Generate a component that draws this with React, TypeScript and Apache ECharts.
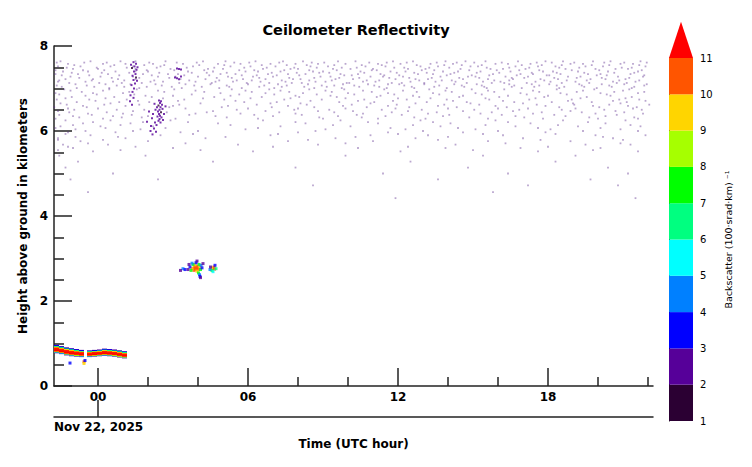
import React, { useEffect, useRef } from "react";
import * as echarts from "echarts";

const FONT = "DejaVu Sans";

// ---- axes ----
const xMin = -1.76;
const xMax = 22.2;
const majorHours = [0, 6, 12, 18];
const minorHours = [2, 4, 8, 10, 14, 16, 20, 22];
const dateLabel = "Nov 22, 2025";

// ---- colour scale (backscatter levels) ----
const colorbarLevels = [1, 2, 3, 4, 5, 6, 7, 8, 9, 10, 11];
const colorbarColors = [
  "#2b0033", "#560099", "#0000ff", "#0080ff", "#00ffff",
  "#00ff80", "#00ff00", "#a6ff00", "#ffd500", "#ff5500", "#ff0000",
];

// ---- low cloud layer: column start hour, base km, top km ----
const lowLayerHour = [-1.76, -1.56, -1.36, -1.16, -0.96, -0.76, -0.44, -0.24, -0.04, 0.16, 0.36, 0.56, 0.76, 0.96];
const lowLayerBase = [0.77, 0.75, 0.72, 0.70, 0.69, 0.68, 0.68, 0.69, 0.70, 0.71, 0.70, 0.69, 0.67, 0.65];
const lowLayerTop = [0.97, 0.94, 0.91, 0.89, 0.87, 0.85, 0.84, 0.85, 0.86, 0.88, 0.87, 0.86, 0.84, 0.82];

// ---- echo cells: [hour, km, backscatter] ----
const lowDrips = [
  [-0.56, 0.57, 10.5], [-0.56, 0.53, 9.5], [-0.52, 0.60, 3.5], [-1.12, 0.54, 3.5],
];
const midCloud = [
  [3.84, 2.78, 10.5], [3.92, 2.78, 10.5], [4.0, 2.78, 10.5], [3.84, 2.72, 10.5], [3.92, 2.74, 10.5], [4.0, 2.74, 10.5],
  [3.88, 2.81, 10.5], [3.96, 2.82, 10.5], [3.80, 2.76, 10.5],
  [3.76, 2.76, 9.5], [4.08, 2.80, 9.5], [3.88, 2.85, 9.5], [3.96, 2.70, 9.5],
  [3.72, 2.72, 7.5], [4.1, 2.74, 7.5], [3.8, 2.86, 7.5], [4.04, 2.86, 7.5], [4.02, 2.66, 7.5],
  [3.68, 2.80, 3.5], [3.76, 2.89, 4.5], [3.92, 2.90, 3.5], [4.12, 2.84, 4.5], [4.16, 2.78, 3.5], [4.06, 2.62, 4.5], [4.08, 2.58, 3.5],
  [3.6, 2.74, 2.5], [3.64, 2.86, 2.5], [4.2, 2.88, 2.5], [3.96, 2.94, 2.5], [4.1, 2.55, 2.5],
  [3.4, 2.76, 4.5], [3.48, 2.74, 3.5], [3.3, 2.72, 2.5],
  [4.56, 2.78, 9.5], [4.64, 2.80, 10.5], [4.66, 2.75, 10.5], [4.56, 2.72, 7.5], [4.48, 2.74, 4.5],
  [4.72, 2.76, 6.5], [4.68, 2.84, 3.5], [4.5, 2.80, 2.5], [4.6, 2.69, 5.5],
];
const plumeA = [
  [1.42, 7.62, 2.5], [1.52, 7.58, 2.5], [1.46, 7.52, 2.5], [1.36, 7.48, 1.5], [1.54, 7.44, 2.5], [1.44, 7.40, 2.5],
  [1.50, 7.34, 2.5], [1.38, 7.30, 2.5], [1.52, 7.26, 1.5], [1.42, 7.20, 2.5], [1.48, 7.12, 2.5], [1.34, 7.08, 2.5],
  [1.44, 7.00, 2.5], [1.38, 6.92, 2.5], [1.30, 6.84, 2.5], [1.42, 6.78, 2.5], [1.28, 6.70, 2.5], [1.36, 6.62, 2.5],
  [1.58, 7.50, 2.5], [1.32, 7.56, 2.5], [1.56, 7.18, 2.5],
];
const plumeB = [
  [2.44, 6.72, 2.5], [2.48, 6.66, 2.5], [2.42, 6.60, 1.5], [2.50, 6.56, 2.5], [2.46, 6.50, 2.5], [2.40, 6.46, 2.5],
  [2.52, 6.44, 1.5], [2.44, 6.40, 2.5], [2.48, 6.36, 2.5], [2.38, 6.34, 2.5], [2.54, 6.32, 2.5], [2.46, 6.28, 2.5],
  [2.42, 6.24, 2.5], [2.50, 6.20, 2.5], [2.58, 6.52, 2.5], [2.36, 6.56, 2.5], [2.56, 6.62, 2.5], [2.52, 6.70, 2.5],
  [2.20, 6.40, 2.5], [2.16, 6.30, 2.5], [2.28, 6.20, 2.5], [2.12, 6.12, 2.5], [2.24, 6.06, 2.5], [2.32, 5.98, 2.5],
  [2.18, 5.92, 2.5], [2.64, 6.40, 2.5], [2.60, 6.26, 2.5], [2.30, 6.50, 2.5], [2.26, 6.64, 2.5], [2.10, 6.00, 2.5],
  [2.34, 6.14, 2.5], [1.96, 6.22, 2.5], [2.04, 6.46, 2.5], [2.70, 6.58, 2.5],
];
const streakC = [
  [3.16, 7.47, 2.5], [3.24, 7.46, 2.5], [3.32, 7.45, 2.5],
  [3.08, 7.26, 2.5], [3.16, 7.24, 2.5], [3.24, 7.22, 2.5], [3.32, 7.28, 2.5],
];

// ---- background noise speckle: heights (km) and hours seen at each ----
const noiseKm = [
  7.64, 7.61, 7.58, 7.55, 7.52, 7.49, 7.46, 7.43, 7.40, 7.37, 7.34, 7.31, 7.28, 7.25, 7.22, 7.19, 7.16, 7.13, 7.10, 7.07, 7.04, 7.01,
  6.98, 6.95, 6.92, 6.89, 6.86, 6.83, 6.80, 6.77, 6.74, 6.71, 6.68, 6.65, 6.62, 6.59, 6.56, 6.53, 6.50, 6.47, 6.44, 6.41, 6.38, 6.35, 6.32, 6.29,
  6.25, 6.21, 6.18, 6.14, 6.11, 6.07, 6.04, 6.00, 5.97, 5.93, 5.90, 5.86, 5.83, 5.79, 5.76, 5.71, 5.68, 5.63, 5.60, 5.55, 5.52,
  5.42, 5.28, 5.14, 5.00, 4.86, 4.72, 4.56, 4.42,
];
const noiseHours = [
  [-1.5, -0.3, 0.9, 1.5, 2.7, 4.2, 5.1, 6.3, 7.4, 8.2, 9.6, 10.3, 11.8, 12.6, 13.9, 14.7, 15.5, 16.8, 17.9, 18.6, 19.8, 20.5, 21.7],
  [-1.65, -0.55, 0.35, 2.05, 3.15, 3.95, 5.45, 6.05, 7.25, 8.55, 9.05, 10.85, 11.55, 12.35, 13.55, 14.35, 15.05, 16.15, 17.55, 18.15, 19.05, 20.25, 21.05, 21.95],
  [-1.2, 0.2, 1.1, 2.2, 3.4, 4.8, 5.7, 6.9, 7.9, 8.8, 9.9, 11.2, 12.1, 13.3, 14.2, 15.9, 16.4, 17.3, 18.9, 19.4, 20.9, 21.4],
  [-0.95, 0.65, 1.85, 2.65, 4.05, 5.05, 6.55, 7.55, 8.35, 9.45, 10.55, 11.35, 12.75, 13.85, 14.55, 15.35, 16.95, 17.75, 18.55, 19.75, 20.45, 21.65],
  [-1.6, -0.7, 0.5, 1.4, 2.5, 3.8, 5.3, 6.1, 7.1, 8.5, 9.2, 10.7, 11.5, 12.9, 13.6, 14.9, 15.2, 16.7, 17.6, 18.3, 19.5, 20.2, 21.9],
  [-1.25, -0.05, 1.15, 2.35, 3.55, 4.65, 5.85, 6.75, 7.85, 8.75, 9.75, 10.35, 11.85, 12.25, 13.25, 14.05, 15.55, 16.45, 17.25, 18.45, 19.25, 20.95, 21.35],
  [-1.0, 0.0, 1.5, 2.9, 4.4, 5.0, 6.6, 7.7, 8.0, 9.4, 10.1, 11.0, 12.4, 13.1, 14.5, 15.7, 16.2, 17.1, 18.7, 19.9, 20.7, 21.2],
  [-1.7, -0.6, 0.25, 1.95, 3.05, 4.25, 5.65, 6.25, 7.45, 8.45, 9.55, 10.95, 11.15, 12.95, 13.45, 14.85, 15.95, 16.85, 17.65, 18.95, 20.05, 21.75],
  [-1.4, -0.4, 0.7, 1.5, 2.0, 3.6, 4.6, 5.9, 6.4, 7.3, 8.6, 9.0, 10.5, 11.7, 12.3, 13.8, 14.4, 15.3, 16.5, 17.8, 18.2, 19.2, 20.4, 21.6],
  [-1.05, 0.15, 1.25, 2.45, 3.75, 4.35, 5.15, 6.95, 7.95, 8.85, 9.25, 10.65, 11.95, 12.65, 13.15, 14.25, 15.15, 16.05, 17.35, 18.35, 19.45, 20.65, 21.45],
  [-1.7, -0.8, 0.4, 1.8, 2.8, 3.2, 4.9, 5.5, 6.8, 7.6, 8.3, 9.7, 10.4, 11.3, 12.8, 13.4, 14.1, 15.8, 16.9, 17.4, 18.5, 19.6, 20.1, 21.3],
  [-1.45, -0.35, 0.85, 2.15, 3.45, 4.45, 5.75, 6.35, 7.15, 8.05, 9.85, 10.15, 11.45, 12.05, 13.95, 14.95, 15.65, 16.75, 17.95, 18.05, 19.95, 20.35, 21.85],
  [-1.1, 0.1, 1.4, 2.4, 3.1, 4.0, 5.2, 6.2, 7.0, 8.9, 9.3, 10.9, 11.4, 12.2, 13.7, 14.8, 15.1, 16.3, 17.2, 18.8, 19.3, 20.8, 21.8],
  [-0.75, 0.55, 1.65, 2.85, 4.75, 5.35, 6.45, 7.65, 8.65, 9.65, 10.45, 11.65, 12.45, 13.35, 14.45, 15.25, 16.55, 17.05, 18.25, 19.15, 20.15, 21.25],
  [-1.3, -0.2, 0.8, 1.5, 3.3, 4.3, 5.8, 6.7, 7.8, 8.1, 9.5, 10.2, 11.9, 12.7, 13.2, 14.6, 15.6, 16.6, 17.7, 18.4, 19.7, 20.3, 21.1],
  [-1.55, -0.25, 1.05, 2.25, 3.65, 4.85, 5.55, 6.15, 7.35, 8.45, 9.35, 10.75, 11.25, 12.85, 13.75, 14.15, 15.85, 16.45, 17.85, 18.75, 19.55, 20.85, 21.65],
  [-1.6, -0.5, 0.6, 2.1, 2.6, 3.9, 4.7, 5.4, 6.5, 7.5, 8.7, 9.1, 10.6, 11.1, 12.5, 13.5, 14.3, 15.4, 16.1, 17.5, 18.1, 19.1, 20.6, 21.5],
  [-1.15, 0.05, 0.95, 1.75, 3.25, 4.55, 5.95, 6.85, 7.75, 8.15, 9.95, 10.05, 11.75, 12.15, 13.05, 14.75, 15.75, 16.25, 17.15, 18.55, 19.65, 20.75, 21.15],
  [-0.9, 0.3, 1.3, 2.3, 3.5, 4.5, 6.0, 7.2, 8.4, 9.8, 10.8, 11.6, 12.05, 13.05, 14.25, 15.15, 16.45, 17.35, 18.05, 19.25, 20.15, 21.05, 21.95],
  [-1.65, -0.45, 0.75, 2.55, 3.85, 5.15, 6.65, 7.55, 8.95, 9.45, 10.25, 11.05, 12.25, 13.65, 14.55, 15.35, 16.65, 17.65, 18.35, 19.35, 20.45, 21.85],
  [-1.45, -0.15, 1.05, 1.95, 2.95, 4.15, 5.25, 6.45, 7.35, 8.25, 9.15, 10.45, 11.25, 12.55, 13.45, 14.65, 15.45, 16.55, 17.45, 18.65, 19.45, 20.55, 21.45],
  [-0.85, 0.45, 1.65, 3.35, 4.85, 5.75, 7.05, 8.65, 9.75, 11.55, 12.65, 13.95, 15.55, 16.95, 18.45, 19.95, 21.35],
  [-1.35, 0.45, 1.55, 3.05, 5.35, 6.85, 8.45, 9.85, 11.45, 13.25, 14.95, 16.25, 18.35, 19.85, 21.25],
  [-1.1, 0.2, 2.4, 3.9, 5.9, 7.3, 9.1, 10.6, 12.2, 13.9, 15.6, 17.4, 19.4, 21.0],
  [-0.65, 1.25, 2.65, 4.25, 6.15, 7.65, 9.35, 10.95, 12.75, 14.15, 15.85, 17.65, 19.15, 20.65, 21.85],
  [-1.7, -0.2, 1.0, 4.9, 6.7, 8.2, 10.0, 11.6, 13.4, 15.1, 16.9, 18.5, 20.1, 21.6],
  [-1.55, -0.05, 1.45, 3.75, 5.65, 7.05, 8.75, 10.25, 11.85, 13.65, 15.35, 17.15, 18.75, 20.35],
  [-0.5, 1.9, 3.0, 5.3, 7.9, 9.3, 11.3, 12.6, 14.6, 16.4, 18.0, 20.5],
  [-1.05, 0.65, 2.15, 4.65, 6.55, 8.05, 9.55, 11.15, 12.85, 14.45, 16.05, 17.85, 19.55, 21.35],
  [-1.3, 0.3, 2.6, 4.2, 6.1, 7.7, 9.9, 12.0, 13.3, 15.5, 17.5, 19.3, 21.1],
  [-1.65, -0.35, 1.15, 3.45, 5.05, 7.45, 8.95, 10.65, 12.35, 13.95, 15.65, 17.25, 18.95, 20.85, 21.65],
  [-0.1, 1.6, 3.2, 5.5, 8.5, 10.4, 11.8, 14.2, 16.2, 18.8, 20.6, 21.9],
  [-0.85, 0.85, 2.05, 5.85, 7.15, 9.65, 11.05, 13.15, 14.75, 16.65, 18.15, 19.75, 21.15],
  [-1.5, 0.5, 4.1, 6.9, 8.1, 10.9, 12.7, 14.9, 17.0, 19.0, 20.9],
  [-1.25, 0.25, 1.65, 3.25, 6.35, 8.35, 10.15, 11.95, 13.85, 15.25, 17.55, 19.05, 20.45, 22.05],
  [-0.6, 1.1, 3.0, 5.2, 7.6, 9.8, 11.6, 13.6, 15.9, 17.9, 19.8, 21.2],
  [-1.75, -0.45, 2.85, 4.95, 6.95, 8.65, 10.75, 12.45, 14.35, 16.35, 18.45, 20.05, 21.55],
  [-1.2, 0.0, 3.5, 6.0, 8.0, 9.9, 11.9, 14.0, 16.0, 17.2, 19.1, 21.4],
  [-0.95, 0.75, 1.85, 5.55, 7.85, 9.25, 11.35, 12.95, 15.05, 16.85, 18.55, 20.25, 21.75],
  [-1.6, 1.4, 4.6, 6.7, 8.8, 10.2, 12.4, 14.6, 16.6, 18.9, 20.7],
  [-1.15, 0.35, 2.75, 4.35, 7.25, 9.45, 11.75, 13.55, 15.75, 17.75, 19.35, 21.05],
  [-0.4, 1.0, 3.9, 5.7, 7.9, 10.6, 13.2, 15.3, 17.4, 19.9, 21.8],
  [-1.55, -0.25, 1.35, 3.65, 6.25, 8.15, 10.35, 12.15, 14.05, 16.15, 18.25, 20.75],
  [-1.0, 0.6, 2.0, 4.7, 7.0, 9.6, 11.5, 13.8, 16.7, 18.7, 20.3],
  [-0.75, 0.95, 1.75, 5.15, 8.85, 10.55, 12.65, 14.85, 17.05, 19.65, 21.45],
  [-1.7, 0.2, 3.1, 6.4, 9.0, 11.2, 13.1, 15.6, 17.8, 20.0, 21.6],
  [-1.3, 0.5, 2.9, 6.6, 9.7, 12.9, 15.9, 18.6, 21.1],
  [-0.2, 1.8, 3.6, 7.9, 10.8, 13.4, 16.4, 19.6],
  [-0.6, 1.3, 4.8, 8.3, 11.2, 14.1, 17.3, 20.3],
  [-1.0, 0.9, 5.3, 9.4, 12.6, 15.5, 18.4, 21.3],
  [-1.5, 0.1, 2.2, 7.3, 10.1, 13.7, 16.7, 19.2, 21.7],
  [-1.7, 0.3, 2.7, 6.4, 11.7, 14.4, 17.6, 20.1],
  [-0.9, 1.7, 5.9, 9.1, 12.3, 15.1, 18.1, 20.9],
  [-0.5, 1.4, 4.0, 8.7, 13.0, 16.0, 19.4, 21.6],
  [-1.2, 0.7, 3.3, 8.0, 11.6, 14.6, 17.9],
  [-1.3, 3.8, 7.2, 12.0, 15.4, 18.3],
  [-0.3, 2.5, 6.9, 10.9, 13.2, 16.2, 19.9, 21.9],
  [-0.9, 0.8, 5.1, 10.3, 14.0, 20.2],
  [-1.6, 1.1, 4.3, 9.5, 12.7, 17.0, 20.6],
  [-1.6, 0.2, 8.4, 13.6, 17.7, 21.0],
  [-0.7, 2.0, 7.6, 11.0, 15.6, 18.9],
  [-0.4, 3.5, 9.9, 16.3, 20.9],
  [-1.4, 0.4, 5.6, 8.8, 14.3, 19.5, 21.3],
  [-1.2, 1.5, 7.0, 12.4, 18.0],
  [-1.0, 3.0, 10.4, 13.9, 16.9, 20.1],
  [-1.6, 0.9, 4.1, 15.0, 19.8],
  [-0.2, 6.2, 12.1, 17.6, 21.6],
  [-1.55, 1.9, 9.9, 15.4, 19.1],
  [-0.8, 4.6, 12.5, 18.3],
  [-1.3, 7.9, 14.8, 20.4],
  [0.6, 11.4, 16.4, 21.2],
  [-1.1, 2.4, 13.6, 19.7],
  [8.6, 17.2, 20.8],
  [-0.4, 15.8],
  [11.9, 21.5],
];

const LAYER_STEP = 0.2;

const axisLineStyle = { color: "#222", width: 1.5 };
const boldLabel = { color: "#000", fontFamily: FONT, fontWeight: "bold" as const, fontSize: 12 };

function buildOption() {
  const noiseData = noiseKm.flatMap((km, i) => noiseHours[i].map((h) => [h, km]));
  const plumeData = [...plumeA, ...plumeB, ...streakC];
  const echoData = [...midCloud, ...lowDrips];
  const layerData = lowLayerHour.map((h, i) => [h, lowLayerBase[i], lowLayerTop[i]]);
  const colorbarData = colorbarLevels.map((l, i) => [l, l + 1, i]);

  const layerStops = [
    { offset: 0, color: "#560099" },
    { offset: 0.1, color: "#0000ff" },
    { offset: 0.19, color: "#00ff80" },
    { offset: 0.28, color: "#ffd500" },
    { offset: 0.37, color: "#ff2200" },
    { offset: 0.68, color: "#ff0000" },
    { offset: 0.77, color: "#ff5500" },
    { offset: 0.85, color: "#a6ff00" },
    { offset: 0.93, color: "#0080ff" },
    { offset: 1, color: "#560099" },
  ];

  const pieces = colorbarLevels.map((l, i) =>
    i === colorbarLevels.length - 1
      ? { min: l, color: colorbarColors[i] }
      : { min: l, max: l + 1, color: colorbarColors[i] }
  );

  return {
    animation: false,
    backgroundColor: "#fff",
    title: {
      text: "Ceilometer Reflectivity",
      left: 351,
      textAlign: "center",
      top: 17,
      textStyle: { fontFamily: FONT, fontWeight: "bold", fontSize: 14.5, color: "#000" },
    },
    grid: [
      { left: 54, top: 46, width: 599, height: 340, outerBoundsMode: "none", containLabel: false },
      { left: 669, top: 58, width: 24, height: 363, outerBoundsMode: "none", containLabel: false },
    ],
    visualMap: {
      type: "piecewise",
      show: false,
      seriesIndex: [1, 3],
      dimension: 2,
      pieces,
    },
    xAxis: [
      {
        gridIndex: 0, type: "value", min: xMin, max: xMax, position: "bottom",
        axisLine: { show: true, onZero: false, lineStyle: axisLineStyle },
        axisTick: { show: true, inside: true, length: 18, customValues: majorHours, lineStyle: axisLineStyle },
        axisLabel: {
          ...boldLabel, margin: 5, customValues: majorHours,
          formatter: (v: number) => String(Math.round(v)).padStart(2, "0"),
        },
        splitLine: { show: false },
      },
      {
        gridIndex: 0, type: "value", min: xMin, max: xMax, position: "bottom",
        axisLine: { show: false },
        axisTick: { show: true, inside: true, length: 9, customValues: minorHours, lineStyle: axisLineStyle },
        axisLabel: { show: false },
        splitLine: { show: false },
      },
      {
        gridIndex: 0, type: "value", min: xMin, max: xMax, position: "bottom", offset: 31,
        axisLine: { show: true, onZero: false, lineStyle: axisLineStyle },
        axisTick: { show: true, inside: true, length: 17, customValues: [0], lineStyle: axisLineStyle },
        axisLabel: {
          ...boldLabel, margin: 4, customValues: [xMin], align: "left",
          formatter: () => dateLabel,
        },
        splitLine: { show: false },
        name: "Time (UTC hour)",
        nameLocation: "middle",
        nameGap: 17,
        nameTextStyle: boldLabel,
      },
      {
        gridIndex: 1, type: "value", min: 0, max: 1, show: false,
      },
    ],
    yAxis: [
      {
        gridIndex: 0, type: "value", min: 0, max: 8, interval: 2,
        axisLine: { show: true, onZero: false, lineStyle: axisLineStyle },
        axisTick: { show: true, inside: true, length: 18, lineStyle: axisLineStyle },
        minorTick: { show: true, splitNumber: 4, length: 10, lineStyle: axisLineStyle },
        axisLabel: { ...boldLabel, margin: 6 },
        splitLine: { show: false },
        minorSplitLine: { show: false },
        name: "Height above ground in kilometers",
        nameLocation: "middle",
        nameGap: 17,
        nameTextStyle: boldLabel,
      },
      {
        gridIndex: 1, type: "value", min: 1, max: 11, interval: 1, position: "right",
        axisLine: { show: true, lineStyle: { color: "#000", width: 1 } },
        axisTick: { show: false },
        axisLabel: { color: "#000", fontFamily: FONT, fontSize: 10, margin: 7 },
        splitLine: { show: false },
        name: "Backscatter (100·srad·km) ⁻¹",
        nameLocation: "middle",
        nameGap: 30,
        nameTextStyle: { color: "#000", fontFamily: FONT, fontSize: 9.5 },
      },
    ],
    series: [
      {
        type: "scatter",
        xAxisIndex: 0, yAxisIndex: 0,
        data: noiseData,
        symbol: "rect",
        symbolSize: 1.8,
        itemStyle: { color: "#5b2a8c", opacity: 0.42 },
        silent: true,
      },
      {
        type: "scatter",
        xAxisIndex: 0, yAxisIndex: 0,
        data: plumeData,
        symbol: "rect",
        symbolSize: 2,
        itemStyle: { opacity: 0.8 },
        silent: true,
      },
      {
        type: "custom",
        xAxisIndex: 0, yAxisIndex: 0,
        data: layerData,
        encode: { x: 0, y: [1, 2] },
        clip: true,
        renderItem: (_p: any, api: any) => {
          const h = api.value(0);
          const lo = api.value(1);
          const hi = api.value(2);
          const a = api.coord([h, hi]);
          const b = api.coord([h + LAYER_STEP, lo]);
          return {
            type: "rect",
            shape: { x: a[0], y: a[1], width: b[0] - a[0], height: b[1] - a[1] },
            style: { fill: new echarts.graphic.LinearGradient(0, 0, 0, 1, layerStops) },
          };
        },
        silent: true,
      },
      {
        type: "scatter",
        xAxisIndex: 0, yAxisIndex: 0,
        data: echoData,
        symbol: "rect",
        symbolSize: 3,
        silent: true,
      },
      {
        type: "custom",
        xAxisIndex: 3, yAxisIndex: 1,
        data: colorbarData,
        encode: { x: -1, y: [0, 1] },
        clip: false,
        renderItem: (_p: any, api: any) => {
          const lo = api.value(0);
          const hi = api.value(1);
          const idx = api.value(2);
          const fill = colorbarColors[idx];
          if (idx === colorbarLevels.length - 1) {
            const p1 = api.coord([0, lo]);
            const p2 = api.coord([1, lo]);
            const p3 = api.coord([0.5, hi]);
            return { type: "polygon", shape: { points: [p1, p2, p3] }, style: { fill } };
          }
          const a = api.coord([0, hi]);
          const b = api.coord([1, lo]);
          return {
            type: "rect",
            shape: { x: a[0], y: a[1], width: b[0] - a[0], height: b[1] - a[1] },
            style: { fill },
          };
        },
        silent: true,
      },
    ],
  };
}

export default function App() {
  const ref = useRef<HTMLDivElement>(null);
  useEffect(() => {
    document.body.style.margin = "0";
    if (!ref.current) return;
    const chart = echarts.init(ref.current, null, { renderer: "svg" });
    chart.setOption(buildOption() as any);
    return () => chart.dispose();
  }, []);
  return <div ref={ref} style={{ width: 752, height: 467 }} />;
}
